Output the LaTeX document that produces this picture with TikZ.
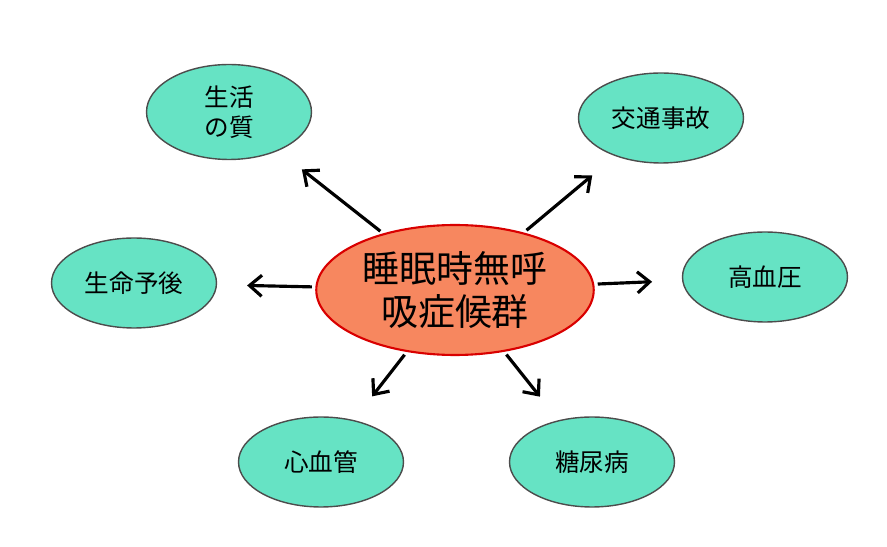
\documentclass[tikz,border=0pt]{standalone}
\usepackage{fontspec}
\setmainfont{Noto Sans CJK JP}
\usetikzlibrary{shapes.geometric,arrows.meta}
\definecolor{mint}{HTML}{66E3C4}
\definecolor{salmon}{HTML}{F7875F}
\begin{document}
\begin{tikzpicture}[x=0.02cm, y=-0.02cm, thick,
  topic/.style = {draw=black!70, fill=mint, ellipse, minimum width=3.3cm, minimum height=1.8cm, font=\fontsize{14}{17}\selectfont, align=center},
  core/.style = {draw=red!85!black, line width=1.2pt, fill=salmon, ellipse, minimum width=4.9cm, minimum height=2.6cm, font=\fontsize{21}{25}\selectfont, align=center},
  link/.style = {line width=1.8pt, -{Straight Barb[length=7pt, width=12pt, line width=1.8pt]}, shorten <=2pt, shorten >=0.6cm}]
\useasboundingbox (0,0) rectangle (887,547);
\node[core] (c) at (455,290) {睡眠時無呼\\吸症候群};
\node[topic, minimum height=1.9cm] (q) at (229,112) {生活\\の質};
\node[topic] (t) at (661,118) {交通事故};
\node[topic] (l) at (134,283) {生命予後};
\node[topic] (h) at (765,277) {高血圧};
\node[topic] (v) at (321,462) {心血管};
\node[topic] (d) at (592,462) {糖尿病};
\draw[link] (c) -- (q);
\draw[link] (c) -- (t);
\draw[link] (c) -- (l);
\draw[link] (c) -- (h);
\draw[link] (c) -- (v);
\draw[link] (c) -- (d);
\end{tikzpicture}
\end{document}
